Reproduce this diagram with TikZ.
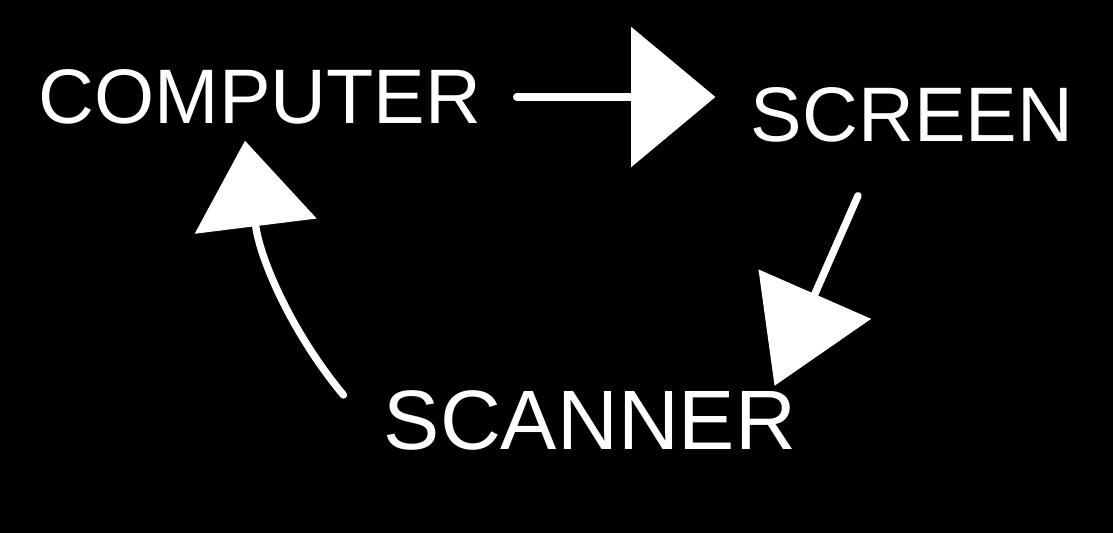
\documentclass[tikz,border=0pt]{standalone}
\usepackage{fontspec}
\setmainfont{Liberation Sans}
\usetikzlibrary{arrows.meta,calc}

\begin{document}
\begin{tikzpicture}[x=0.02cm, y=-0.02cm]
	\tikzstyle{word}=[text=white, inner sep=0pt, font=\fontsize{44}{44}\selectfont]
	\tikzstyle{link}=[draw=white, fill=white, line width=4.2pt, line cap=round]
	\useasboundingbox (0,0) rectangle (1113,532);
	\fill[black] (-10,-10) rectangle (1123,542);
	\node[word] (computer) at (260,97) {COMPUTER};
	\node[word] (screen) at (912,115) {SCREEN};
	\node[word, font=\fontsize{48}{48}\selectfont] (scanner) at (590,420) {SCANNER};
	% computer to screen
	\draw[link, -{Triangle[length=48pt,width=79pt]}, shorten <=20pt, shorten >=20pt]
		(computer.east) -- (computer.east -| screen.west);
	% screen down to scanner
	\draw[link, -{Triangle[length=57pt,width=69pt]}]
		($(screen.south)+(-54,53)$) -- ($(scanner.north east)+(-22,-4)$);
	% scanner back up to computer
	\draw[link, fill=none, -{Triangle[length=49pt,width=69pt,fill=white]}]
		($(scanner.west)+(-40,-25)$) .. controls +(-50,-60) and +(15,120) .. ($(computer.south)+(-15,16)$);
\end{tikzpicture}
\end{document}
